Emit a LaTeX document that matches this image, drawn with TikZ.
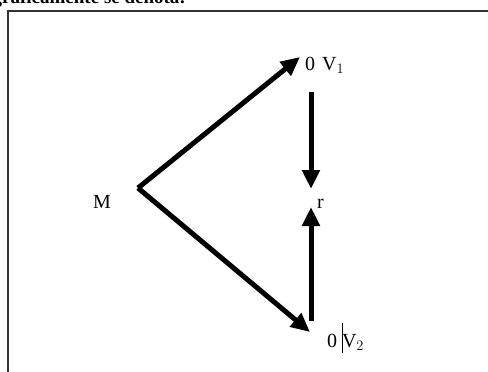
\documentclass[tikz,border=0pt]{standalone}
\usepackage{fontspec}
\setmainfont{Liberation Serif}
\usetikzlibrary{arrows.meta}
\tikzset{
  vec/.style={line width=5pt, -{Triangle[length=19pt,width=17pt]}, shorten >=0pt},
  lbl/.style={inner sep=0pt, anchor=base west, font=\fontsize{20}{20}\selectfont},
  frame/.style={line width=1.4pt, draw=black!80}
}
\begin{document}
\begin{tikzpicture}[x=1pt,y=-1pt]
\useasboundingbox (0,0) rectangle (488,372);
\clip (0,0) rectangle (488,372);
% cut-off caption above the frame
\node[inner sep=0pt, anchor=base east, font=\fontsize{19}{19}\selectfont\bfseries] (cap) at (186,4) {gráficamente se denota:};
% frame
\draw[frame] (8,380) -- (8,11) -- (495,11);
% points
\coordinate (A) at (138,188);
\coordinate (T1) at (300,57);
\coordinate (T2) at (310,332);
\coordinate (D0) at (311,92);
\coordinate (D1) at (311,189);
\coordinate (U0) at (311,321);
\coordinate (U1) at (311,207);
% labels
\node[lbl] (M) at (93,208) {M};
\node[lbl] (v1) at (305,70) {0\hspace{7pt}V$_1$};
\node[lbl] (r) at (317,208) {r};
\node[lbl] (v2) at (327,347) {0\hspace{5pt}\rule[-6pt]{0.8pt}{30pt}\hspace{-1pt}V$_2$};
% vectors
\draw[vec] (A) -- (T1);
\draw[vec] (A) -- (T2);
\draw[vec] (D0) -- (D1);
\draw[vec] (U0) -- (U1);
\end{tikzpicture}
\end{document}
